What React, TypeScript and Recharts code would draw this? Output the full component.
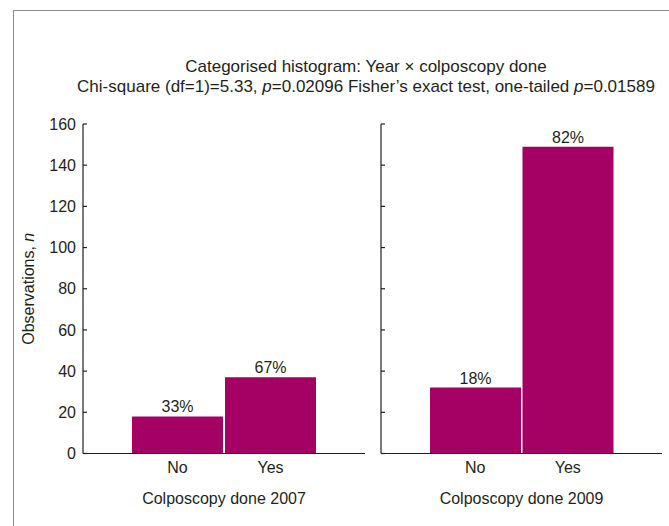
import React from 'react';
import { BarChart, Bar, XAxis, YAxis, LabelList, Label } from 'recharts';

const categories = ['No', 'Yes'];
const counts2007 = [18, 37];
const counts2009 = [32, 149];
const pct2007 = ['33%', '67%'];
const pct2009 = ['18%', '82%'];
const yTicks = [0, 20, 40, 60, 80, 100, 120, 140, 160];

const titleLine1 = 'Categorised histogram: Year × colposcopy done';

const data2007 = categories.map((c, i) => ({ name: c, value: counts2007[i], pct: pct2007[i] }));
const data2009 = categories.map((c, i) => ({ name: c, value: counts2009[i], pct: pct2009[i] }));

const BAR = '#a50064';
const INK = '#231f20';
const FONT = '"Liberation Sans", Arial, sans-serif';
const tickStyle = { fill: INK, fontSize: 16, fontFamily: FONT };

const YLabel = (props: any) => {
  const vb = props.viewBox || { y: 124, height: 330 };
  const cy = vb.y + vb.height / 2;
  return (
    <text x={28} y={cy} transform={`rotate(-90, 28, ${cy})`} textAnchor="middle" dominantBaseline="central" fill={INK} fontSize={16} fontFamily={FONT}>
      Observations, <tspan fontStyle="italic">n</tspan>
    </text>
  );
};

// right panel keeps the tick marks but has no numbers
const NoTickText = () => <g />;

const Panel = ({ data, xLabel, showY, width, margin }: any) => (
  <BarChart width={width} height={526} data={data} margin={margin} barCategoryGap={1}>
    <YAxis
      domain={[0, 160]}
      ticks={yTicks}
      width={showY ? 53 : 21}
      tick={showY ? tickStyle : <NoTickText />}
      tickSize={-4}
      tickMargin={11}
      axisLine={{ stroke: INK, strokeWidth: 1.2 }}
      tickLine={{ stroke: INK, strokeWidth: 1.2 }}
      interval={0}
    >
      {showY && <Label content={<YLabel />} />}
    </YAxis>
    <XAxis
      dataKey="name"
      height={60}
      tickLine={false}
      axisLine={{ stroke: INK, strokeWidth: 1.2 }}
      padding={{ left: 48, right: 48 }}
      tick={tickStyle}
      label={{ value: xLabel, position: 'insideBottom', offset: 10, fill: INK, fontSize: 16, fontFamily: FONT }}
    />
    <Bar dataKey="value" fill={BAR} isAnimationActive={false}>
      <LabelList dataKey="pct" position="top" offset={4} fill={INK} fontSize={16} fontFamily={FONT} />
    </Bar>
  </BarChart>
);

export default function App() {
  return (
    <div style={{ position: 'fixed', left: 0, top: 0, width: 669, height: 526, background: '#fff', overflow: 'hidden' }}>
      <div style={{ position: 'absolute', left: 13, top: 10, width: 700, height: 600, border: '1.5px solid #8c8c8c' }} />
      <div
        style={{
          position: 'absolute',
          left: 66,
          top: 57,
          width: 600,
          textAlign: 'center',
          fontFamily: '"Liberation Sans Narrow", "Liberation Sans", Arial, sans-serif',
          fontSize: 17,
          lineHeight: '20px',
          color: INK,
        }}
      >
        <div>{titleLine1}</div>
        <div>
          Chi-square (df=1)=5.33, <i>p</i>=0.02096 Fisher’s exact test, one-tailed <i>p</i>=0.01589
        </div>
      </div>
      <div style={{ position: 'absolute', left: 0, top: 0 }}>
        <Panel data={data2007} xLabel="Colposcopy done 2007" showY width={380} margin={{ top: 124, right: 15, bottom: 12.5, left: 30 }} />
      </div>
      <div style={{ position: 'absolute', left: 360, top: 0 }}>
        <Panel data={data2009} xLabel="Colposcopy done 2009" showY={false} width={309} margin={{ top: 124, right: 7, bottom: 12.5, left: 0 }} />
      </div>
    </div>
  );
}
